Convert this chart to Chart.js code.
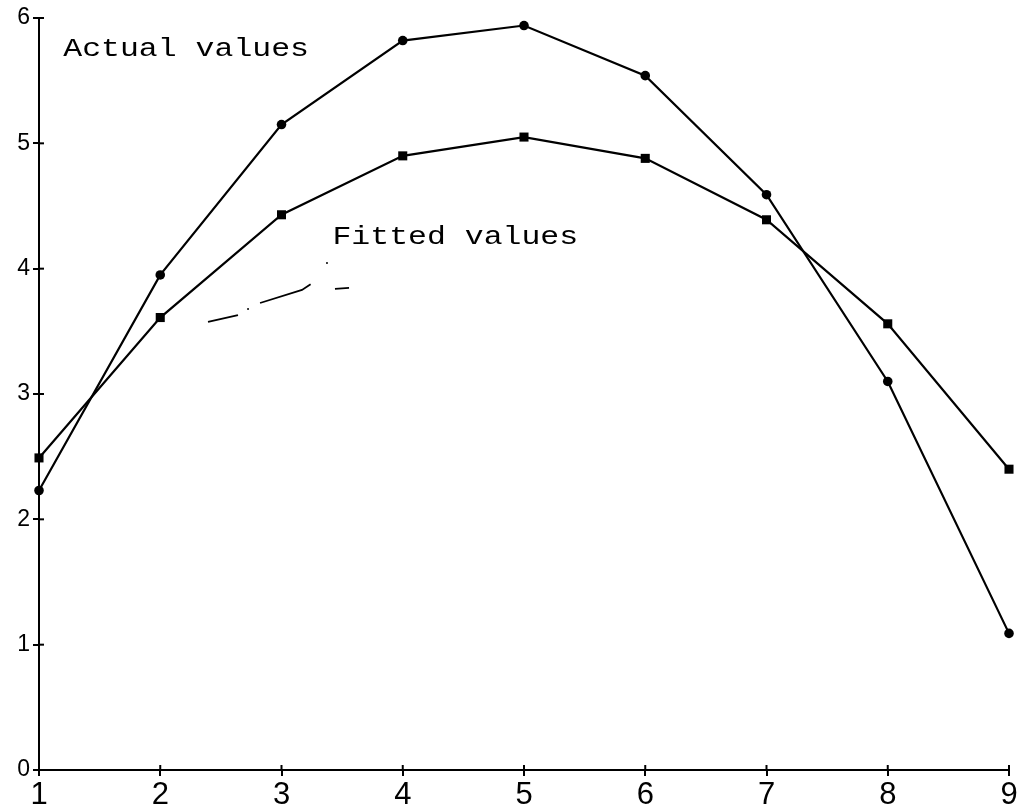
<!DOCTYPE html>
<html>
<head>
<meta charset="utf-8">
<script src="https://cdn.jsdelivr.net/npm/chart.js@4.4.1/dist/chart.umd.min.js"></script>
<style>
  html, body { margin: 0; padding: 0; background: #ffffff; }
  #wrap { width: 1017px; height: 812px; }
</style>
</head>
<body>
<div id="wrap"><canvas id="c" width="1017" height="812"></canvas></div>
<script>
// ---- data ----
const xValues = [1, 2, 3, 4, 5, 6, 7, 8, 9];
const actualValues = [2.23, 3.95, 5.15, 5.82, 5.94, 5.54, 4.59, 3.10, 1.09];
const fittedValues = [2.49, 3.61, 4.43, 4.90, 5.05, 4.88, 4.39, 3.56, 2.40];
const xTickLabels = ['1', '2', '3', '4', '5', '6', '7', '8', '9'];
const yTickLabels = ['0', '1', '2', '3', '4', '5', '6'];
const seriesNames = ['Actual values', 'Fitted values'];
// label anchors in data units (left edge, vertical centre)
const labelAnchors = [[1.2, 5.75], [3.42, 4.25]];
// hand-drawn pointer stroke near "Fitted values" (data units)
const pointerStroke = [[2.394, 3.575], [2.641, 3.630]];
const pointerStroke2 = [[2.823, 3.726], [3.169, 3.830], [3.24, 3.875]];
const pointerStroke3 = [[3.441, 3.838], [3.557, 3.846]];
const pointerDots = [[2.724, 3.678], [3.375, 4.045]];

const toXY = (ys) => ys.map((y, i) => ({ x: xValues[i], y: y }));

const overlay = {
  id: 'overlay',
  afterDraw(chart) {
    const ctx = chart.ctx;
    const xs = chart.scales.x, ys = chart.scales.y;
    ctx.save();
    ctx.strokeStyle = '#000';
    ctx.lineWidth = 2;
    // inner halves of tick marks (ticks cross the axis)
    ys.ticks.forEach(t => {
      const py = ys.getPixelForValue(t.value);
      ctx.beginPath();
      ctx.moveTo(xs.left, py);
      ctx.lineTo(xs.left + 5, py);
      ctx.stroke();
    });
    xs.ticks.forEach(t => {
      const px = xs.getPixelForValue(t.value);
      ctx.beginPath();
      ctx.moveTo(px, ys.bottom);
      ctx.lineTo(px, ys.bottom - 5);
      ctx.stroke();
    });
    // series labels
    ctx.fillStyle = '#000';
    ctx.font = '25px "Liberation Mono", "DejaVu Sans Mono", monospace';
    ctx.textBaseline = 'middle';
    ctx.textAlign = 'left';
    seriesNames.forEach((name, i) => {
      const px = xs.getPixelForValue(labelAnchors[i][0]);
      const py = ys.getPixelForValue(labelAnchors[i][1]);
      ctx.save();
      ctx.translate(px, py);
      ctx.scale(1.26, 1);
      ctx.fillText(name, 0, 0);
      ctx.restore();
    });
    // pointer stroke
    ctx.lineWidth = 1.8;
    [pointerStroke, pointerStroke2, pointerStroke3].forEach(seg => {
      ctx.beginPath();
      seg.forEach((p, k) => {
        const px = xs.getPixelForValue(p[0]), py = ys.getPixelForValue(p[1]);
        if (k === 0) ctx.moveTo(px, py); else ctx.lineTo(px, py);
      });
      ctx.stroke();
    });
    pointerDots.forEach(p => {
      ctx.beginPath();
      ctx.arc(xs.getPixelForValue(p[0]), ys.getPixelForValue(p[1]), 1, 0, Math.PI * 2);
      ctx.fill();
    });
    ctx.restore();
  }
};

new Chart(document.getElementById('c'), {
  type: 'line',
  data: {
    datasets: [
      {
        label: seriesNames[0],
        data: toXY(actualValues),
        borderColor: '#000',
        backgroundColor: '#000',
        borderWidth: 2.2,
        pointStyle: 'circle',
        pointRadius: 4.8,
        pointBorderWidth: 0,
        tension: 0,
        fill: false,
        clip: false
      },
      {
        label: seriesNames[1],
        data: toXY(fittedValues),
        borderColor: '#000',
        backgroundColor: '#000',
        borderWidth: 2.2,
        pointStyle: 'rect',
        pointRadius: 6.4,
        pointBorderWidth: 0,
        tension: 0,
        fill: false,
        clip: false
      }
    ]
  },
  options: {
    responsive: false,
    animation: false,
    devicePixelRatio: 1,
    layout: { padding: { top: 18, right: 8, bottom: 0, left: 0 } },
    plugins: {
      legend: { display: false },
      tooltip: { enabled: false }
    },
    scales: {
      x: {
        type: 'linear',
        min: 1, max: 9,
        afterFit(scale) { scale.height = 42; scale.paddingRight = 0; },
        border: { display: true, color: '#000', width: 2 },
        grid: { display: true, drawOnChartArea: false, drawTicks: true, tickLength: 6, color: '#000', lineWidth: 2 },
        ticks: {
          stepSize: 1,
          padding: 4,
          color: '#000',
          font: { family: '"Liberation Sans", Arial, sans-serif', size: 31, lineHeight: 1 },
          callback: (v) => xTickLabels[xValues.indexOf(v)] ?? ''
        }
      },
      y: {
        type: 'linear',
        min: 0, max: 6,
        afterFit(scale) { scale.width = 39; },
        border: { display: true, color: '#000', width: 2 },
        grid: { display: true, drawOnChartArea: false, drawTicks: true, tickLength: 6, color: '#000', lineWidth: 2 },
        ticks: {
          stepSize: 1,
          padding: 3,
          color: '#000',
          font: { family: '"Liberation Sans", Arial, sans-serif', size: 23, lineHeight: 1 },
          callback: (v) => yTickLabels[v] ?? ''
        }
      }
    }
  },
  plugins: [overlay]
});
</script>
</body>
</html>
